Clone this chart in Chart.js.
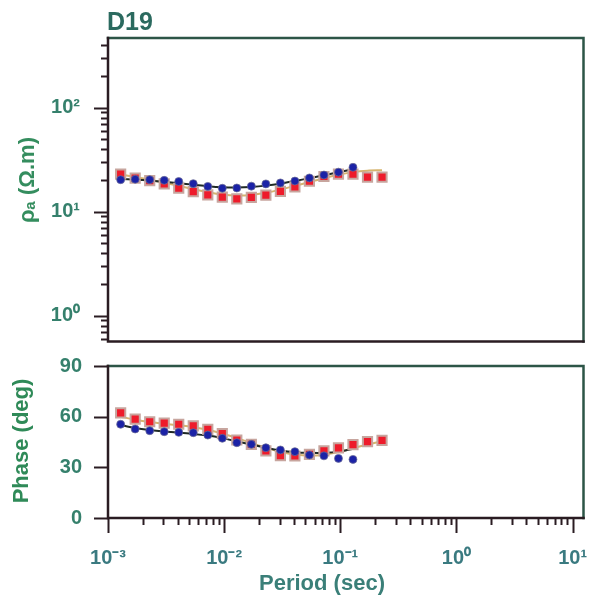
<!DOCTYPE html>
<html>
<head>
<meta charset="utf-8">
<script src="https://cdn.jsdelivr.net/npm/chart.js@4/dist/chart.umd.min.js"></script>
<style>
  body { margin: 0; background: #fff; overflow: hidden; }
  #wrap { position: relative; width: 592px; height: 604px; }
  .panel { position: absolute; left: 0; width: 592px; }
</style>
</head>
<body>
<div id="wrap">
  <div class="panel" style="top:0;height:350px"><canvas id="rhoChart" width="592" height="350"></canvas></div>
  <div class="panel" style="top:350px;height:254px"><canvas id="phaseChart" width="592" height="254"></canvas></div>
</div>
<script>
  // periods (sec)
  const periods = [0.001285, 0.001714, 0.002286, 0.003048, 0.004064, 0.00542, 0.007228, 0.009638,
    0.01285, 0.01714, 0.02286, 0.03048, 0.04064, 0.0542, 0.07228, 0.09638, 0.1285, 0.1714, 0.2286];

  // apparent resistivity (ohm.m)
  const rhoXY = [23.0, 21.0, 19.9, 18.5, 16.8, 15.6, 14.5, 13.8, 13.3, 13.7, 14.4, 15.7, 17.3, 19.6, 21.8, 23.0, 23.0, 21.5, 21.5];
  const rhoYX = [20.3, 20.5, 20.3, 20.0, 19.5, 18.6, 17.5, 16.8, 16.9, 17.6, 18.5, 18.9, 19.7, 21.1, 22.5, 24.0, 26.7];
  const rhoModelXY = [22.8, 21.5, 20.3, 19.0, 17.7, 16.5, 15.4, 14.6, 14.3, 14.5, 15.2, 16.3, 17.7, 19.3, 21.0, 22.6, 24.0, 24.8, 25.0];
  const rhoModelYX = [20.6, 20.3, 19.9, 19.4, 18.8, 18.2, 17.6, 17.2, 17.1, 17.3, 17.8, 18.6, 19.7, 21.0, 22.4, 23.9, 25.6];

  // phase (deg)
  const phaseXY = [62.3, 58.5, 57.0, 56.2, 55.5, 54.5, 52.5, 50.0, 46.2, 43.6, 39.7, 36.9, 36.7, 37.7, 39.7, 41.5, 43.5, 45.2, 46.0];
  const phaseYX = [55.5, 52.7, 51.7, 51.1, 50.7, 50.5, 49.1, 47.2, 44.6, 43.6, 41.6, 40.3, 39.3, 37.3, 36.8, 35.3, 34.7];
  const phaseModelXY = [60.0, 58.2, 56.8, 55.8, 54.9, 53.8, 52.2, 50.0, 47.3, 44.4, 41.6, 39.2, 37.6, 37.0, 37.5, 39.0, 41.3, 43.5, 45.5];
  const phaseModelYX = [55.0, 53.3, 52.1, 51.2, 50.5, 49.8, 48.8, 47.3, 45.4, 43.5, 41.6, 40.0, 39.0, 38.6, 38.6, 39.3, 41.0];

  // axis ticks
  const periodTicks = [0.001, 0.01, 0.1, 1, 10];
  const periodLabels = ['10\u207B\u00B3', '10\u207B\u00B2', '10\u207B\u00B9', '10\u2070', '10\u00B9'];
  const rhoTicks = [1, 10, 100];
  const rhoLabels = ['10\u2070', '10\u00B9', '10\u00B2'];
  const phaseTicks = [0, 30, 60, 90];
  const phaseLabels = ['0', '30', '60', '90'];

  const FONT = "'Liberation Sans', Arial, sans-serif";
  const xMin = 0.001, xMax = 12.4;

  const pts = (ys) => ys.map((y, i) => ({ x: periods[i], y }));

  function makeDatasets(xy, yx, mxy, myx) {
    return [
      { label: 'yx', data: pts(yx), showLine: false, pointStyle: 'circle', pointRadius: 4,
        backgroundColor: '#1b22a6', borderColor: 'rgba(110,110,150,0.7)', borderWidth: 1 },
      { label: 'xy', data: pts(xy), showLine: false, pointStyle: 'rect', pointRadius: 6.5,
        backgroundColor: '#ee1b2b', borderColor: '#c7a59e', borderWidth: 2 },
      { label: 'model yx', data: pts(myx), showLine: true, pointRadius: 0, borderColor: '#1f2a25',
        borderWidth: 2, tension: 0.3 },
      { label: 'model xy', data: pts(mxy), showLine: true, pointRadius: 0, borderColor: '#d6b46e',
        borderWidth: 2, tension: 0.3 }
    ];
  }

  function fixedTicks(values) {
    return (scale) => { scale.ticks = values.map(v => ({ value: v })); };
  }
  // fixed axis sizes, no extra room for overhanging labels
  const yFit = (s) => { s.width = 108; s.paddingTop = 0; s.paddingBottom = 0; };
  const xFit = (s) => { s.height = 86; s.paddingLeft = 0; s.paddingRight = 0; };

  // frame + tick marks drawn over the chart area edges
  const framePlugin = {
    id: 'frame',
    afterDatasetsDraw(chart, args, o) {
      const { ctx, chartArea: a } = chart;
      const ys = chart.scales.y, xs = chart.scales.x;
      ctx.save();
      ctx.lineCap = 'square';
      ctx.lineWidth = 2.5;
      ctx.strokeStyle = '#2c5547';
      ctx.beginPath();
      ctx.moveTo(a.left, a.top); ctx.lineTo(a.right, a.top); ctx.lineTo(a.right, a.bottom);
      ctx.stroke();
      ctx.strokeStyle = '#2a1c22';
      ctx.beginPath();
      ctx.moveTo(a.left, a.top); ctx.lineTo(a.left, a.bottom); ctx.lineTo(a.right, a.bottom);
      ctx.stroke();

      ctx.lineWidth = 2;
      ctx.strokeStyle = '#2a1c22';
      const yTick = (v, len) => {
        const p = Math.round(ys.getPixelForValue(v)) + 0.5;
        ctx.beginPath(); ctx.moveTo(a.left - len, p); ctx.lineTo(a.left, p); ctx.stroke();
      };
      const xTick = (v, len) => {
        const p = Math.round(xs.getPixelForValue(v)) + 0.5;
        ctx.beginPath(); ctx.moveTo(p, a.bottom); ctx.lineTo(p, a.bottom + len); ctx.stroke();
      };
      o.yMajor.forEach(v => yTick(v, 13));
      if (o.yLog) {
        for (let d = Math.floor(Math.log10(ys.min)); d <= Math.ceil(Math.log10(ys.max)); d++) {
          for (let m = 2; m <= 9; m++) {
            const v = m * Math.pow(10, d);
            if (v > ys.min && v < ys.max) yTick(v, 6);
          }
        }
      }
      if (o.xTicks) {
        periodTicks.forEach(v => xTick(v, 14));
        for (let d = -3; d <= 0; d++) {
          for (let m = 2; m <= 9; m++) xTick(m * Math.pow(10, d), 6);
        }
      }
      ctx.restore();
    },
    afterDraw(chart, args, o) {
      const ctx = chart.ctx;
      (o.texts || []).forEach(t => {
        ctx.save();
        ctx.translate(t.x, t.y);
        if (t.rot) ctx.rotate(t.rot);
        ctx.font = t.font;
        ctx.fillStyle = t.color;
        ctx.textAlign = t.align || 'center';
        ctx.textBaseline = 'middle';
        ctx.fillText(t.text, 0, 0);
        ctx.restore();
      });
    }
  };

  const rhoConfig = {
    type: 'scatter',
    data: { datasets: makeDatasets(rhoXY, rhoYX, rhoModelXY, rhoModelYX) },
    options: {
      responsive: false,
      animation: false,
      layout: { padding: { left: 0, right: 5, top: 38, bottom: 7 } },
      plugins: {
        legend: { display: false },
        tooltip: { enabled: false },
        frame: {
          yMajor: rhoTicks, yLog: true, xTicks: false,
          texts: [
            { text: 'D19', x: 107, y: 23, align: 'left', font: 'bold 25px ' + FONT, color: '#2b6a5f' },
            { text: '\u03C1\u2090 (\u03A9.m)', x: 28, y: 180, rot: -Math.PI / 2, font: 'bold 22px ' + FONT, color: '#348d5e' }
          ]
        }
      },
      scales: {
        x: { type: 'logarithmic', min: xMin, max: xMax, display: false },
        y: {
          type: 'logarithmic', min: 0.564, max: 468,
          afterFit: yFit,
          afterBuildTicks: fixedTicks(rhoTicks),
          grid: { display: false, drawTicks: false },
          border: { display: false },
          ticks: {
            padding: 28,
            color: '#35806c',
            font: { family: FONT, size: 20, weight: 'bold' },
            callback: (v, i) => rhoLabels[i]
          }
        }
      }
    },
    plugins: [framePlugin]
  };

  const phaseConfig = {
    type: 'scatter',
    data: { datasets: makeDatasets(phaseXY, phaseYX, phaseModelXY, phaseModelYX) },
    options: {
      responsive: false,
      animation: false,
      layout: { padding: { left: 0, right: 5, top: 16, bottom: 0 } },
      plugins: {
        legend: { display: false },
        tooltip: { enabled: false },
        frame: {
          yMajor: phaseTicks, yLog: false, xTicks: true,
          texts: [
            { text: 'Phase (deg)', x: 22, y: 91, rot: -Math.PI / 2, font: 'bold 22px ' + FONT, color: '#2f8a58' },
            { text: 'Period (sec)', x: 322, y: 234, font: 'bold 22px ' + FONT, color: '#3a7f78' }
          ]
        }
      },
      scales: {
        x: {
          type: 'logarithmic', min: xMin, max: xMax,
          afterFit: xFit,
          afterBuildTicks: fixedTicks(periodTicks),
          grid: { display: false, drawTicks: false },
          border: { display: false },
          ticks: {
            padding: 28,
            maxRotation: 0,
            autoSkip: false,
            color: '#3a7a80',
            font: { family: FONT, size: 20, weight: 'bold' },
            callback: (v, i) => periodLabels[i]
          }
        },
        y: {
          type: 'linear', min: 0, max: 90,
          afterFit: yFit,
          afterBuildTicks: fixedTicks(phaseTicks),
          grid: { display: false, drawTicks: false },
          border: { display: false },
          ticks: {
            padding: 26,
            color: '#35806c',
            font: { family: FONT, size: 20, weight: 'bold' },
            callback: (v, i) => phaseLabels[i]
          }
        }
      }
    },
    plugins: [framePlugin]
  };

  new Chart(document.getElementById('rhoChart'), rhoConfig);
  new Chart(document.getElementById('phaseChart'), phaseConfig);
</script>
</body>
</html>
